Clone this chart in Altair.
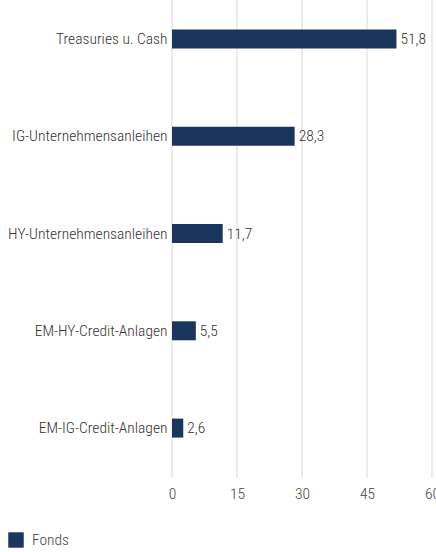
import altair as alt
import pandas as pd

categories = ["Treasuries u. Cash", "IG-Unternehmensanleihen", "HY-Unternehmensanleihen",
              "EM-HY-Credit-Anlagen", "EM-IG-Credit-Anlagen"]
values = [51.8, 28.3, 11.7, 5.5, 2.6]
series_name = "Fonds"
x_ticks = [0, 15, 30, 45, 60]

df = pd.DataFrame({
    "Kategorie": categories,
    "Wert": values,
    "Serie": [series_name] * len(categories),
})
df["Label"] = df["Wert"].map(lambda v: f"{v:.1f}".replace(".", ","))
grid_df = pd.DataFrame({"t": x_ticks})

FONT = "Roboto Condensed, DejaVu Sans Condensed, Liberation Sans Narrow, Arial Narrow, sans-serif"
NAVY = "#1b365d"
FS = 15.5
FW = 300

xscale = alt.Scale(domain=[0, 60], nice=False)

grid = alt.Chart(grid_df).mark_rule(color="#ebebeb", strokeWidth=2).encode(
    x=alt.X("t:Q", scale=xscale, title=None),
    y=alt.value(0), y2=alt.value(478),
)

y_enc = alt.Y("Kategorie:N", sort=categories, title=None,
              scale=alt.Scale(range=[0, 467], paddingInner=0.8, paddingOuter=0.3),
              axis=alt.Axis(domain=False, ticks=False, labelPadding=5, labelFontSize=FS,
                            labelFontWeight=FW, labelColor="#333333", labelFont=FONT,
                            grid=False, labelLimit=0))
x_enc = alt.X("Wert:Q", title=None, scale=xscale,
              axis=alt.Axis(values=x_ticks, domain=False, ticks=False, grid=False,
                            labelFontSize=FS, labelFontWeight=FW,
                            labelColor="#444444", labelFont=FONT, labelPadding=8,
                            labelFlush=False))

bars = alt.Chart(df).mark_bar(size=19).encode(
    y=y_enc, x=x_enc,
    color=alt.Color("Serie:N", scale=alt.Scale(range=[NAVY]),
                    legend=alt.Legend(title=None, orient="none", legendX=-164, legendY=532,
                                      symbolType="square", symbolSize=240,
                                      symbolStrokeWidth=0, labelFont=FONT,
                                      labelFontSize=FS, labelFontWeight=FW,
                                      labelColor="#444444", labelOffset=8)),
)
labels = alt.Chart(df).mark_text(align="left", baseline="middle", dx=4, font=FONT,
                                 fontSize=FS, fontWeight=FW, color="#333333").encode(
    y=alt.Y("Kategorie:N", sort=categories),
    x="Wert:Q",
    text="Label:N",
)

chart = (grid + bars + labels).properties(
    width=260, height=478,
    autosize=alt.AutoSizeParams(type="none"),
    padding={"left": 172, "top": 0, "right": 4, "bottom": 74},
    background="white",
).configure_view(stroke=None)

chart.save("out.html", embed_options={"renderer": "svg", "actions": False})
